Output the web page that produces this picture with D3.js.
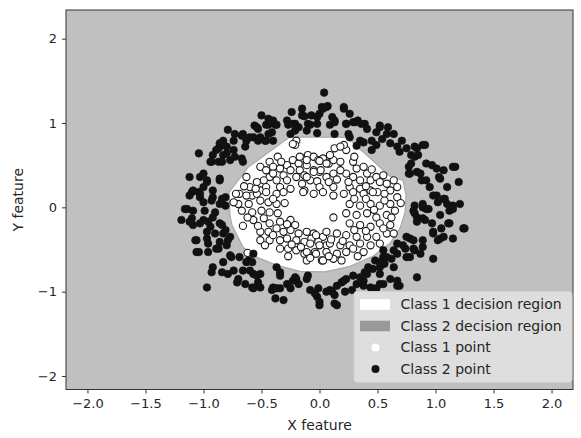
<!DOCTYPE html>
<html><head><meta charset="utf-8">
<script src="https://cdn.jsdelivr.net/npm/d3@7"></script>
<style>html,body{margin:0;padding:0;background:#fff}svg{display:block}text{font-family:"DejaVu Sans",sans-serif;fill:#262626}</style>
</head><body>
<svg id="chart" width="581" height="438"></svg>
<script>
// ---- data ----
const xTicks = [-2.0, -1.5, -1.0, -0.5, 0.0, 0.5, 1.0, 1.5, 2.0];
const yTicks = [-2, -1, 0, 1, 2];
const legendLabels = ["Class 1 decision region", "Class 2 decision region", "Class 1 point", "Class 2 point"];
// decision boundary of class 1 region (white)
const class1Region = [[-0.254,0.836],[0.237,0.830],[0.608,0.368],[0.720,0.320],[0.746,0.142],[0.737,-0.059],[0.694,-0.249],[0.608,-0.427],[0.461,-0.581],[0.263,-0.700],[0.047,-0.765],[-0.168,-0.759],[-0.366,-0.688],[-0.539,-0.593],[-0.659,-0.474],[-0.754,-0.214],[-0.772,-0.095],[-0.780,0.178],[-0.616,0.474]];
// class 1 points (inner ring)
const class1X = [-0.20,-0.21,-0.23,-0.36,-0.43,-0.51,-0.46,-0.40,-0.34,-0.28,-0.23,-0.18,-0.14,-0.10,-0.05,-0.01,0.03,0.08,-0.11,-0.17,-0.25,-0.31,-0.37,-0.43,-0.48,-0.54,-0.60,-0.63,-0.69,-0.58,-0.51,-0.46,-0.34,-0.28,-0.20,-0.13,-0.05,0.00,0.06,-0.08,-0.02,-0.15,
-0.17,-0.11,0.00,0.06,0.12,0.18,0.13,0.23,0.21,0.18,0.29,0.32,0.38,0.41,0.44,0.49,0.52,0.58,0.64,0.67,0.61,0.29,0.35,0.23,0.18,0.12,0.01,-0.05,-0.11,0.26,0.35,0.44,0.50,-0.13,0.00,0.12,
-0.72,-0.63,-0.54,-0.46,-0.37,-0.31,-0.70,-0.61,-0.51,-0.44,-0.37,-0.67,-0.58,-0.50,-0.43,-0.36,-0.57,-0.48,-0.43,-0.34,-0.25,-0.21,-0.51,-0.44,-0.37,-0.31,-0.25,-0.18,-0.11,-0.05,0.03,0.06,-0.51,-0.43,-0.34,-0.28,-0.20,-0.13,-0.07,-0.01,0.06,-0.34,-0.27,-0.20,-0.13,-0.04,0.02,-0.11,-0.62,
-0.14,-0.05,0.03,0.12,0.21,0.29,0.38,0.46,0.56,0.67,0.26,0.35,0.44,0.52,0.61,0.12,0.23,0.32,0.41,0.49,0.58,0.65,0.26,0.35,0.44,0.52,0.61,-0.03,0.15,0.23,0.32,0.41,0.49,0.58,0.64,-0.08,0.00,0.09,0.18,0.26,0.35,0.44,0.52,-0.11,-0.03,0.06,0.15,0.23,0.29,0.38,0.03,0.12,0.19,
-0.65,-0.55,-0.40,-0.30,-0.62,-0.53,-0.40,-0.28,-0.47,-0.24,-0.16,0.10,0.20,0.30,0.40,0.55,0.47,0.56,0.40,0.30,0.25,0.40,0.15,0.08,-0.25,-0.40,-0.33,0.09,0.30,0.45,0.55,-0.08,0.08,0.33,-0.27,0.62,0.70,-0.74,-0.66];
const class1Y = [0.79,0.74,0.75,0.60,0.54,0.48,0.44,0.48,0.46,0.50,0.56,0.52,0.58,0.62,0.60,0.56,0.58,0.52,0.50,0.44,0.44,0.38,0.32,0.36,0.32,0.30,0.24,0.36,0.16,0.14,0.20,0.24,0.24,0.32,0.36,0.38,0.44,0.42,0.36,0.32,0.31,0.28,
0.60,0.56,0.55,0.52,0.56,0.54,0.70,0.68,0.74,0.72,0.54,0.46,0.48,0.40,0.32,0.36,0.30,0.28,0.32,0.24,0.20,0.36,0.32,0.40,0.44,0.40,0.44,0.42,0.36,0.24,0.22,0.20,0.18,0.20,0.24,0.24,
0.16,0.14,0.16,0.18,0.16,0.18,0.04,0.04,0.08,0.06,0.04,-0.04,-0.06,-0.04,-0.06,-0.07,-0.15,-0.13,-0.19,-0.17,-0.15,-0.21,-0.29,-0.29,-0.25,-0.29,-0.27,-0.31,-0.29,-0.31,-0.35,-0.29,-0.39,-0.39,-0.39,-0.37,-0.39,-0.41,-0.37,-0.41,-0.45,-0.49,-0.49,-0.51,-0.55,-0.53,-0.63,-0.63,-0.54,
0.18,0.16,0.18,0.14,0.16,0.18,0.16,0.18,0.16,0.12,0.04,0.02,0.04,0.02,0.04,-0.12,-0.07,-0.09,-0.07,-0.12,-0.09,-0.04,-0.19,-0.21,-0.23,-0.19,-0.21,-0.33,-0.31,-0.33,-0.35,-0.35,-0.35,-0.31,-0.31,-0.43,-0.45,-0.43,-0.45,-0.45,-0.43,-0.45,-0.43,-0.53,-0.55,-0.53,-0.55,-0.53,-0.49,-0.53,-0.63,-0.61,-0.63,
0.25,0.22,0.10,0.05,-0.12,-0.22,-0.33,-0.20,-0.45,-0.44,-0.47,-0.38,-0.40,-0.27,-0.28,-0.25,-0.03,0.08,0.10,0.10,0.30,0.25,0.33,0.30,0.22,0.40,0.54,0.62,0.60,0.45,0.38,-0.60,-0.58,-0.58,-0.58,-0.12,0.05,0.06,-0.22];
// class 2 points (outer ring)
const class2X = [0.04,-0.50,-0.24,-0.15,0.02,0.07,0.00,0.21,0.26,-0.40,-0.46,-0.38,-0.28,-0.27,-0.21,-0.18,-0.15,-0.08,-0.02,-0.25,0.09,0.13,0.13,0.23,0.25,0.29,0.33,0.39,0.41,0.52,0.58,0.49,0.45,0.35,0.32,-0.66,-0.60,-0.56,-0.53,-0.51,-0.46,-0.40,-0.41,
-0.44,-0.79,-0.73,-0.54,-0.44,-0.37,-0.13,-0.11,-0.02,0.06,-0.23,-0.21,-0.83,-0.86,-0.89,-0.92,-0.80,-0.74,-0.73,-0.77,-0.83,-0.87,-0.93,-1.04,-1.12,-1.03,-0.97,-1.00,-1.09,-1.03,-0.92,-0.86,-0.66,-0.63,-0.57,-0.53,-0.47,-0.44,-0.64,
-0.67,-0.74,-0.86,-0.87,-0.94,-0.84,-0.80,-0.67,-1.00,-0.97,-1.04,-1.10,-0.92,-0.84,-0.86,-1.03,-1.00,-1.16,-1.09,-0.99,-0.90,-0.81,-1.19,-1.10,-1.09,-1.00,-0.94,-0.84,-0.97,-0.90,-0.81,-0.77,-1.07,-0.97,-0.86,-0.80,-1.06,-0.96,-0.87,-0.77,-0.69,-0.61,-0.83,-0.92,
-1.14,-0.93,-0.86,-0.81,-1.12,-1.12,-1.03,-0.96,-0.92,-0.86,-0.83,-0.79,-1.06,-0.96,-0.89,-1.04,-0.76,-0.63,-0.58,-0.66,-0.60,-0.57,-0.51,-0.70,-0.64,-0.58,-0.51,-0.93,-0.84,-0.97,-0.79,-0.37,-0.34,-0.40,-0.34,-0.28,-0.25,-0.23,-0.20,-0.10,-0.08,-0.02,-0.01,0.06,-0.38,-0.31,-0.57,
-0.74,-0.54,-0.71,-0.53,-0.57,-0.41,-0.37,-0.34,-0.18,-0.21,-0.11,-0.04,0.00,0.13,0.11,0.15,0.19,0.23,0.29,0.32,0.38,0.41,0.46,0.52,0.56,0.55,0.62,0.67,0.69,0.52,0.44,0.28,
1.01,1.08,1.15,1.21,0.89,0.92,0.82,0.84,0.91,0.97,1.04,1.11,1.24,0.98,1.04,1.15,0.78,0.72,0.67,0.64,0.55,0.58,0.52,0.48,0.42,0.39,0.35,0.21,0.09,0.13,0.22,0.38,0.45,0.55,0.61,0.67,0.52,0.64,0.75,0.82,0.89,0.84,0.98,0.49,
0.71,0.75,0.82,0.89,0.85,0.79,0.77,0.87,0.92,0.97,0.88,0.95,0.98,1.07,1.04,1.15,1.07,1.20,1.02,1.10,1.12,1.15,1.25,1.12,1.05,0.89,0.84,0.82,0.81,0.89,0.94,0.98,1.07,1.02,0.89,0.81,0.75,0.74,0.81,0.87,0.78,
-0.07,0.03,-0.02,-0.10,0.11,0.13,0.21,0.23,0.26,0.31,0.36,0.38,0.45,0.49,0.52,0.59,0.64,0.54,0.61,0.67,0.69,0.79,0.84,0.91,0.82,0.77,0.78,0.84,1.01,1.03,1.17,1.10,0.92,0.00,0.15,0.67];
const class2Y = [1.36,1.09,1.13,1.17,1.19,1.20,1.11,1.17,1.11,1.03,0.98,0.98,1.03,0.98,0.99,0.95,1.09,0.98,0.88,0.87,0.98,1.03,0.87,0.99,0.87,1.01,1.03,0.99,0.93,0.97,0.87,0.89,0.79,0.79,0.73,0.87,0.83,0.97,0.93,0.83,0.79,0.79,0.89,
1.05,0.92,0.87,0.95,0.98,0.98,1.08,0.91,1.07,1.19,0.99,0.91,0.79,0.72,0.68,0.62,0.72,0.68,0.60,0.56,0.62,0.54,0.54,0.64,0.36,0.36,0.32,0.24,0.20,0.16,0.20,0.34,0.54,0.79,0.83,0.79,0.79,0.87,0.72,
0.85,0.79,0.76,0.70,0.54,0.54,0.64,0.58,0.40,0.30,0.18,0.18,0.12,0.10,0.32,0.12,0.06,-0.02,-0.04,-0.04,-0.06,0.02,-0.15,-0.13,-0.21,-0.15,-0.23,-0.21,-0.29,-0.31,-0.27,-0.35,-0.39,-0.37,-0.41,-0.45,-0.53,-0.53,-0.49,-0.57,-0.59,-0.63,-0.65,-0.71,
-0.02,0.08,0.04,0.12,0.14,-0.17,-0.19,-0.17,-0.12,-0.19,-0.31,-0.39,-0.39,-0.43,-0.49,-0.53,-0.59,-0.65,-0.65,-0.75,-0.75,-0.79,-0.79,-0.85,-0.91,-0.95,-0.95,-0.77,-0.77,-0.95,-0.79,-0.71,-0.81,-0.95,-0.96,-0.91,-0.96,-0.87,-0.85,-0.81,-0.98,-1.06,-0.96,-1.00,-1.08,-1.10,-0.55,
-0.75,-0.81,-0.89,-0.89,-0.96,-0.98,-0.96,-0.77,-0.91,-0.83,-0.85,-1.02,-1.12,-1.14,-1.00,-0.93,-0.89,-0.85,-0.81,-0.91,-0.87,-0.79,-0.73,-0.71,-0.67,-0.59,-0.61,-0.55,-0.93,-0.91,-0.95,-0.98,
0.14,0.10,0.02,0.04,0.04,-0.02,-0.07,-0.17,-0.15,-0.19,-0.09,-0.19,-0.25,-0.29,-0.37,-0.37,-0.37,-0.45,-0.43,-0.51,-0.51,-0.59,-0.65,-0.63,-0.71,-0.77,-0.83,-0.87,-0.98,-1.04,-1.00,-0.93,-0.96,-0.91,-0.85,-0.87,-0.79,-0.71,-0.59,-0.51,-0.47,-0.83,-0.61,-0.96,
0.79,0.70,0.72,0.74,0.62,0.52,0.40,0.40,0.52,0.50,0.32,0.24,0.14,0.10,0.34,0.48,0.44,0.30,0.06,0.04,-0.04,-0.02,-0.25,-0.19,-0.25,-0.13,-0.12,0.02,-0.04,0.00,-0.02,-0.31,-0.35,-0.39,-0.39,-0.39,-0.35,-0.49,-0.49,-0.55,-0.59,
1.09,1.17,0.99,0.99,1.07,1.01,1.19,0.99,0.83,1.01,0.99,0.77,0.68,0.74,0.95,0.95,0.87,0.81,0.76,0.72,0.66,0.62,0.70,0.74,0.60,0.48,0.40,0.42,0.46,0.36,0.48,0.24,0.32,-1.16,-1.16,-0.93];

// ---- chart ----
const svg = d3.select("#chart");
const L = 66, R = 573, T = 10, B = 389.5;
const x = d3.scaleLinear().domain([-2.185, 2.185]).range([L, R]);
const y = d3.scaleLinear().domain([-2.16, 2.34]).range([B, T]);

svg.append("rect").attr("x", L).attr("y", T).attr("width", R - L).attr("height", B - T).attr("fill", "#c0c0c0");

const clip = svg.append("clipPath").attr("id", "clip");
clip.append("rect").attr("x", L).attr("y", T).attr("width", R - L).attr("height", B - T);
const plot = svg.append("g").attr("clip-path", "url(#clip)");

const line = d3.line().x(d => x(d[0])).y(d => y(d[1])).curve(d3.curveLinearClosed);
plot.append("path").attr("d", line(class1Region)).attr("fill", "#ffffff").attr("stroke", "#a9a9a9").attr("stroke-width", 1.2);

const c1 = class1X.map((v, i) => [v, class1Y[i]]);
const c2 = class2X.map((v, i) => [v, class2Y[i]]);
plot.selectAll("circle.c1").data(c1).join("circle").attr("class", "c1")
  .attr("cx", d => x(d[0])).attr("cy", d => y(d[1])).attr("r", 3.6)
  .attr("fill", "#ffffff").attr("stroke", "#1a1a1a").attr("stroke-width", 1.1);
plot.selectAll("circle.c2").data(c2).join("circle").attr("class", "c2")
  .attr("cx", d => x(d[0])).attr("cy", d => y(d[1])).attr("r", 3.8)
  .attr("fill", "#111111").attr("stroke", "#111111").attr("stroke-width", 0.6);

// axes
const fmt = d => (d < 0 ? "\u2212" : "") + Math.abs(d).toFixed(1);
const xAxis = d3.axisBottom(x).tickValues(xTicks).tickFormat(fmt).tickSize(4).tickPadding(5);
const yAxis = d3.axisLeft(y).tickValues(yTicks).tickFormat(d => (d < 0 ? "\u2212" : "") + Math.abs(d)).tickSize(4).tickPadding(5);
const gx = svg.append("g").attr("transform", `translate(0,${B})`).call(xAxis);
const gy = svg.append("g").attr("transform", `translate(${L},0)`).call(yAxis);
[gx, gy].forEach(g => {
  g.select(".domain").remove();
  g.selectAll(".tick line").attr("stroke", "#333").attr("stroke-width", 1);
  g.selectAll(".tick text").style("font-family", "DejaVu Sans").style("font-size", "13px").attr("fill", "#262626");
});
svg.append("rect").attr("x", L).attr("y", T).attr("width", R - L).attr("height", B - T)
  .attr("fill", "none").attr("stroke", "#333").attr("stroke-width", 1);

svg.append("text").attr("x", (L + R) / 2).attr("y", 430).attr("text-anchor", "middle")
  .style("font-size", "14px").text("X feature");
svg.append("text").attr("transform", `translate(23,${(T + B) / 2}) rotate(-90)`).attr("text-anchor", "middle")
  .style("font-size", "14px").text("Y feature");

// legend
const lg = svg.append("g");
lg.append("rect").attr("x", 354).attr("y", 291.5).attr("width", 218).attr("height", 91).attr("rx", 3)
  .attr("fill", "#e3e3e3").attr("fill-opacity", 0.85).attr("stroke", "#d0d0d0");
const rowY = [304.5, 326, 347.5, 369];
lg.append("rect").attr("x", 360).attr("y", rowY[0] - 5.3).attr("width", 30).attr("height", 10.6).attr("fill", "#ffffff");
lg.append("rect").attr("x", 360).attr("y", rowY[1] - 5.3).attr("width", 30).attr("height", 10.6).attr("fill", "#999999");
lg.append("circle").attr("cx", 375.5).attr("cy", rowY[2]).attr("r", 4).attr("fill", "#ffffff");
lg.append("circle").attr("cx", 375.5).attr("cy", rowY[3]).attr("r", 4).attr("fill", "#111111");
lg.selectAll("text.lab").data(legendLabels).join("text").attr("class", "lab")
  .attr("x", 400.5).attr("y", (d, i) => rowY[i]).attr("dy", "0.35em").style("font-size", "14px").text(d => d);
</script>
</body></html>
